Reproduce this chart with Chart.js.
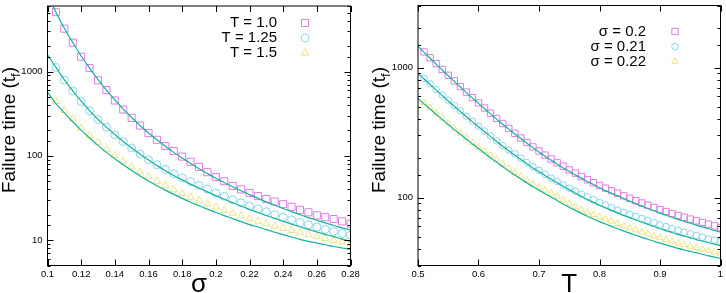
<!DOCTYPE html>
<html>
<head>
<meta charset="utf-8">
<script src="https://cdn.jsdelivr.net/npm/chart.js@4.4.1/dist/chart.umd.min.js"></script>
<style>
  html, body { margin: 0; padding: 0; background: #fff; }
  #wrap { position: relative; width: 726px; height: 293px; }
  canvas { position: absolute; top: 0; }
  #left { left: 0; }
  #right { left: 363px; }
</style>
</head>
<body>
<div id="wrap">
  <canvas id="left" width="363" height="293"></canvas>
  <canvas id="right" width="363" height="293"></canvas>
</div>
<script>
// ---- left panel: failure time vs sigma ----
const sigmaPts = [0.105, 0.11, 0.115, 0.12, 0.125, 0.13, 0.135, 0.14, 0.145, 0.15, 0.155, 0.16,
    0.165, 0.17, 0.175, 0.18, 0.185, 0.19, 0.195, 0.2, 0.205, 0.21, 0.215, 0.22, 0.225, 0.23,
    0.235, 0.24, 0.245, 0.25, 0.255, 0.26, 0.265, 0.27, 0.275, 0.28];
const tfT100 = [5070, 3230, 2200, 1500, 1100, 787, 603, 454, 355, 282, 229, 186, 155, 131, 114, 98,
    85, 74, 64, 56, 50, 44, 40, 36.4, 33.3, 30.7, 28.7, 26.7, 24.9, 22.9, 21.4, 19.7, 18.7, 17.8, 16.7, 15.7];
const tfT125 = [1120, 794, 589, 442, 343, 269, 219, 178, 148, 124, 105, 90, 78.5, 69, 61.4, 54.7,
    49.3, 44.5, 40.3, 36.3, 33.1, 30.2, 27.7, 25.4, 23.4, 21.7, 20.1, 18.7, 17.4, 16.2, 15.2, 14.3, 13.4, 12.7, 12.0, 11.4];
const tfT150 = [442, 347, 275, 214, 174, 145, 120, 101, 86, 74, 64.6, 56.9, 50.1, 44.7, 39.8, 35.9,
    32.4, 29.5, 26.9, 24.7, 22.6, 20.9, 19.4, 18.0, 16.8, 15.7, 14.7, 13.8, 13.0, 12.3, 11.6, 11.0, 10.5, 10.0, 9.55, 9.12];

const sigmaFit = [0.1, 0.105, 0.11, 0.115, 0.12, 0.125, 0.13, 0.135, 0.14, 0.145, 0.15, 0.155, 0.16,
    0.165, 0.17, 0.175, 0.18, 0.185, 0.19, 0.195, 0.2, 0.205, 0.21, 0.215, 0.22, 0.225, 0.23,
    0.235, 0.24, 0.245, 0.25, 0.255, 0.26, 0.265, 0.27, 0.275, 0.28];
const fitT100 = [8510, 5070, 3270, 2210, 1530, 1100, 804, 603, 462, 359, 285, 229, 187, 155, 130, 110,
    94, 81, 70.3, 61.7, 54.3, 48.2, 43.0, 38.5, 34.7, 31.3, 28.4, 25.9, 23.7, 21.8, 20.0, 18.5, 17.2, 16.0, 14.9, 14.0, 13.1];
const fitT125 = [1585, 1120, 804, 589, 445, 344, 271, 219, 179, 148, 124, 105, 89.1, 76.9, 66.7, 58.6,
    51.9, 46.2, 41.5, 37.4, 33.7, 30.5, 27.8, 25.4, 23.2, 21.3, 19.6, 18.1, 16.7, 15.5, 14.4, 13.4, 12.5, 11.7, 11.0, 10.3, 9.66];
const fitT150 = [570, 417, 324, 254, 202, 163, 133, 110, 92.5, 78.2, 66.8, 57.8, 50.4, 44.3, 39.2, 34.9,
    31.3, 28.2, 25.6, 23.3, 21.3, 19.5, 18.0, 16.6, 15.3, 14.3, 13.3, 12.4, 11.6, 10.9, 10.2, 9.66, 9.23, 8.81, 8.41, 8.07, 7.76];

// ---- right panel: failure time vs T ----
const tempPts = [0.51, 0.52, 0.53, 0.54, 0.55, 0.56, 0.57, 0.58, 0.59, 0.6, 0.61, 0.62, 0.63, 0.64,
    0.65, 0.66, 0.67, 0.68, 0.69, 0.7, 0.71, 0.72, 0.73, 0.74, 0.75, 0.76, 0.77, 0.78, 0.79, 0.8,
    0.81, 0.82, 0.83, 0.84, 0.85, 0.86, 0.87, 0.88, 0.89, 0.9, 0.91, 0.92, 0.93, 0.94, 0.95, 0.96,
    0.97, 0.98, 0.99, 1.0];
const tfS020 = [1318, 1189, 1072, 966, 871, 789, 714, 647, 587, 535, 488, 445, 406, 371, 340, 312,
    287, 265, 245, 228, 212, 198, 185, 174, 163, 154, 145, 137, 130, 124, 118, 113, 108, 103, 98.6,
    94.6, 90.8, 87.3, 83.9, 80.7, 78.0, 75.3, 72.8, 70.5, 68.2, 66.2, 64.3, 62.4, 60.5, 58.7];
const tfS021 = [827, 749, 678, 615, 560, 510, 465, 423, 387, 354, 325, 298, 273, 251, 232, 217,
    201, 186, 173, 162, 151, 141, 133, 125, 118, 112, 106, 101, 96.1, 91.4, 87.3, 83.3, 79.8, 76.8,
    74.0, 71.6, 69.1, 66.6, 64.1, 61.6, 59.7, 57.7, 55.9, 54.1, 52.5, 50.9, 49.5, 48.1, 47.0, 45.7];
const tfS022 = [537, 490, 447, 407, 373, 341, 313, 287, 264, 243, 229, 211, 196, 181, 168, 156,
    146, 136, 127, 120, 114, 108, 102, 95.5, 90.2, 85.3, 80.9, 77.0, 73.6, 70.8, 68.2, 65.8, 63.0,
    60.6, 58.3, 56.2, 54.1, 52.4, 50.5, 48.9, 47.3, 45.9, 44.5, 43.3, 42.2, 41.1, 40.1, 39.0, 38.1, 37.3];

const tempFit = [0.5, 0.51, 0.52, 0.53, 0.54, 0.55, 0.56, 0.57, 0.58, 0.59, 0.6, 0.61, 0.62, 0.63,
    0.64, 0.65, 0.66, 0.67, 0.68, 0.69, 0.7, 0.71, 0.72, 0.73, 0.74, 0.75, 0.76, 0.77, 0.78, 0.79,
    0.8, 0.81, 0.82, 0.83, 0.84, 0.85, 0.86, 0.87, 0.88, 0.89, 0.9, 0.91, 0.92, 0.93, 0.94, 0.95,
    0.96, 0.97, 0.98, 0.99, 1.0];
const fitS020 = [1455, 1309, 1178, 1062, 957, 865, 782, 708, 641, 582, 530, 482, 440, 401, 366, 336,
    308, 284, 262, 242, 224, 208, 194, 181, 169, 159, 149, 141, 133, 126, 119, 113, 108, 103, 98.2,
    93.8, 89.7, 85.9, 82.4, 79.1, 75.9, 73.1, 70.5, 67.9, 65.6, 63.4, 61.4, 59.4, 57.5, 55.8, 54.2];
const fitS021 = [902, 817, 740, 670, 608, 553, 504, 459, 418, 382, 350, 321, 294, 270, 248, 229,
    212, 196, 182, 169, 158, 148, 138, 130, 122, 115, 108, 102, 96.6, 91.8, 87.3, 83.4, 79.6, 76.2,
    72.9, 70.0, 67.1, 64.6, 62.1, 59.8, 57.5, 55.7, 53.8, 52.1, 50.5, 49.0, 47.5, 46.2, 44.9, 43.8, 42.6];
const fitS022 = [577, 525, 479, 437, 398, 365, 333, 306, 281, 258, 238, 219, 202, 187, 173, 160,
    149, 139, 130, 121, 114, 107, 101, 94.8, 89.1, 84.1, 79.6, 75.5, 71.8, 68.4, 65.3, 62.5, 60.0,
    57.5, 55.3, 53.2, 51.3, 49.4, 47.8, 46.1, 44.6, 43.2, 41.9, 40.6, 39.5, 38.5, 37.5, 36.6, 35.6, 34.8, 34.0];

const leftLabels = ["T = 1.0", "T = 1.25", "T = 1.5"];
const rightLabels = ["\u03c3 = 0.2", "\u03c3 = 0.21", "\u03c3 = 0.22"];

const markColors = ["#e07ce3", "#8ad3ef", "#efe27f"];
const markStyles = ["rect", "circle", "triangle"];
const fitColor = "#12b39a";

Chart.defaults.font.family = "'Liberation Sans', Arial, sans-serif";
Chart.defaults.color = "#000";

function pairs(xs, ys) {
    return xs.map((x, i) => ({ x: x, y: ys[i] }));
}

function markerSet(label, xs, ys, k, radius) {
    return {
        label: label,
        data: pairs(xs, ys),
        showLine: false,
        pointStyle: markStyles[k],
        pointRadius: radius,
        pointBorderWidth: 1,
        pointBorderColor: markColors[k],
        pointBackgroundColor: "rgba(0,0,0,0)",
        order: 1
    };
}

function fitSet(xs, ys) {
    return {
        data: pairs(xs, ys),
        showLine: true,
        pointRadius: 0,
        borderColor: fitColor,
        borderWidth: 1.2,
        cubicInterpolationMode: "monotone",
        order: 0
    };
}

// frame, inside ticks, legend and axis titles in gnuplot style
const panelDecor = {
    id: "panelDecor",
    afterDraw(chart, args, opts) {
        const ctx = chart.ctx;
        const area = chart.chartArea;
        const xs = chart.scales.x;
        const ys = chart.scales.y;

        ctx.save();
        ctx.strokeStyle = "#000";
        ctx.lineWidth = 1;
        ctx.strokeRect(area.left, area.top, area.right - area.left, area.bottom - area.top);

        ctx.beginPath();
        xs.ticks.forEach(t => {
            const px = Math.round(xs.getPixelForValue(t.value)) + 0.5;
            ctx.moveTo(px, area.bottom);
            ctx.lineTo(px, area.bottom - 6);
            ctx.moveTo(px, area.top);
            ctx.lineTo(px, area.top + 6);
        });
        ys.ticks.forEach(t => {
            const py = Math.round(ys.getPixelForValue(t.value)) + 0.5;
            const lg = Math.log10(t.value);
            const len = Math.abs(lg - Math.round(lg)) < 1e-9 ? 6 : 3;
            ctx.moveTo(area.left, py);
            ctx.lineTo(area.left + len, py);
            ctx.moveTo(area.right, py);
            ctx.lineTo(area.right - len, py);
        });
        ctx.stroke();

        // legend: text right aligned, marker to the right
        ctx.font = "15px 'Liberation Sans', Arial, sans-serif";
        ctx.textAlign = "right";
        ctx.textBaseline = "middle";
        ctx.fillStyle = "#000";
        const marks = chart.data.datasets.filter(d => d.label);
        marks.forEach((d, i) => {
            const y = opts.legendY + i * opts.legendGap;
            ctx.fillText(d.label, opts.legendX, y);
            ctx.strokeStyle = d.pointBorderColor;
            ctx.fillStyle = "rgba(0,0,0,0)";
            ctx.lineWidth = 1;
            Chart.helpers.drawPoint(ctx, {
                pointStyle: d.pointStyle, radius: d.pointRadius, rotation: 0, borderWidth: 1
            }, opts.markX, y);
            ctx.fillStyle = "#000";
        });

        // y title with subscript f
        ctx.save();
        ctx.translate(opts.yTitleX, opts.yTitleY);
        ctx.rotate(-Math.PI / 2);
        const big = "19px 'Liberation Sans', Arial, sans-serif";
        const small = "13px 'Liberation Sans', Arial, sans-serif";
        ctx.font = big;
        const w1 = ctx.measureText("Failure time (t").width;
        const w3 = ctx.measureText(")").width;
        ctx.font = small;
        const w2 = ctx.measureText("f").width;
        const start = -(w1 + w2 + w3) / 2;
        ctx.textAlign = "left";
        ctx.textBaseline = "alphabetic";
        ctx.font = big;
        ctx.fillText("Failure time (t", start, 0);
        ctx.font = small;
        ctx.fillText("f", start + w1, 5);
        ctx.font = big;
        ctx.fillText(")", start + w1 + w2, 0);
        ctx.restore();

        // x title
        ctx.font = "26px 'Liberation Sans', Arial, sans-serif";
        ctx.textAlign = "center";
        ctx.textBaseline = "alphabetic";
        ctx.fillText(opts.xTitle, (area.left + area.right) / 2, 291.5);

        ctx.restore();
    }
};

function fmtX(v) {
    return String(Number(v.toFixed(2)));
}

function fmtY(v) {
    const lg = Math.log10(v);
    return Math.abs(lg - Math.round(lg)) < 1e-9 ? String(v) : "";
}

function panelOptions(cfg) {
    return {
        responsive: false,
        animation: false,
        devicePixelRatio: 1,
        layout: { padding: { top: 0.5, right: cfg.padRight, left: 0, bottom: 0 } },
        plugins: {
            legend: { display: false },
            tooltip: { enabled: false },
            panelDecor: cfg.decor
        },
        scales: {
            x: {
                type: "linear",
                min: cfg.xMin,
                max: cfg.xMax,
                grid: { display: false, drawTicks: false },
                border: { display: false },
                ticks: {
                    stepSize: cfg.xStep,
                    autoSkip: false,
                    maxRotation: 0,
                    padding: 3,
                    font: { size: 9.5 },
                    callback: fmtX
                },
                afterFit(s) {
                    s.height = 27.5;
                    s.paddingLeft = 0;
                    s.paddingRight = 0;
                }
            },
            y: {
                type: "logarithmic",
                min: cfg.yMin,
                max: cfg.yMax,
                grid: { display: false, drawTicks: false },
                border: { display: false },
                ticks: {
                    autoSkip: false,
                    padding: 5,
                    font: { size: 9.5 },
                    callback: fmtY
                },
                afterFit(s) {
                    s.width = cfg.yWidth;
                    s.paddingTop = 0;
                    s.paddingBottom = 0;
                }
            }
        }
    };
}

new Chart(document.getElementById("left").getContext("2d"), {
    type: "scatter",
    data: {
        datasets: [
            markerSet(leftLabels[0], sigmaPts, tfT100, 0, 5),
            markerSet(leftLabels[1], sigmaPts, tfT125, 1, 4),
            markerSet(leftLabels[2], sigmaPts, tfT150, 2, 4.2),
            fitSet(sigmaFit, fitT100),
            fitSet(sigmaFit, fitT125),
            fitSet(sigmaFit, fitT150)
        ]
    },
    options: panelOptions({
        padRight: 12.5, yWidth: 47.5,
        xMin: 0.1, xMax: 0.28, xStep: 0.02,
        yMin: 5, yMax: 6000,
        decor: {
            legendX: 277, markX: 305, legendY: 23, legendGap: 15,
            yTitleX: 15, yTitleY: 130, xTitle: "\u03c3"
        }
    }),
    plugins: [panelDecor]
});

new Chart(document.getElementById("right").getContext("2d"), {
    type: "scatter",
    data: {
        datasets: [
            markerSet(rightLabels[0], tempPts, tfS020, 0, 4.5),
            markerSet(rightLabels[1], tempPts, tfS021, 1, 3.3),
            markerSet(rightLabels[2], tempPts, tfS022, 2, 3.7),
            fitSet(tempFit, fitS020),
            fitSet(tempFit, fitS021),
            fitSet(tempFit, fitS022)
        ]
    },
    options: panelOptions({
        padRight: 4.5, yWidth: 55,
        xMin: 0.5, xMax: 1.0, xStep: 0.1,
        yMin: 30, yMax: 3000,
        decor: {
            legendX: 283, markX: 312, legendY: 31.5, legendGap: 15,
            yTitleX: 22, yTitleY: 130, xTitle: "T"
        }
    }),
    plugins: [panelDecor]
});
</script>
</body>
</html>
